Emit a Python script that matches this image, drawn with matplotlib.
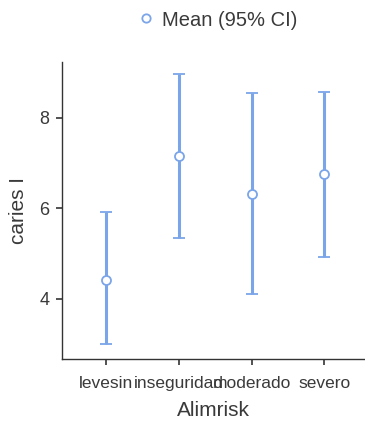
import numpy as np
import matplotlib.pyplot as plt
from matplotlib.lines import Line2D

plt.rcParams['font.family'] = ['Liberation Sans', 'DejaVu Sans']

categories = ["levesin", "inseguridad", "moderado", "severo"]
means = [4.42, 7.15, 6.31, 6.75]
ci_low = [2.99, 5.35, 4.11, 4.91]
ci_high = [5.91, 8.96, 8.55, 8.58]

BLUE = "#7ba5e9"
TEXT = "#3a3a3a"

fig = plt.figure(figsize=(3.65, 4.26), dpi=100)
ax = fig.add_axes([0.170, 0.157, 0.830, 0.697])

x = np.arange(len(categories))
m = np.array(means)
err = np.vstack([m - np.array(ci_low), np.array(ci_high) - m])
ax.errorbar(x, m, yerr=err, fmt="o", color=BLUE, ecolor=BLUE, elinewidth=2.2,
            capsize=4, capthick=2.2, markersize=6.5, markerfacecolor="white",
            markeredgecolor=BLUE, markeredgewidth=1.3, zorder=3)

ax.set_xlim(-0.605, 3.56)
ax.set_ylim(2.66, 9.23)
ax.set_yticks([4, 6, 8])
ax.set_xticks(x)
ax.set_xticklabels(categories)

for s in ["top", "right"]:
    ax.spines[s].set_visible(False)
for s in ["left", "bottom"]:
    ax.spines[s].set_color("#333333")
    ax.spines[s].set_linewidth(1.0)

ax.tick_params(axis="y", length=4, width=1.2, color="#333333", labelsize=13,
               labelcolor=TEXT, pad=5)
ax.tick_params(axis="x", length=4, width=1.2, color="#333333", labelsize=12.5,
               labelcolor=TEXT, pad=8)

ax.set_xlabel("Alimrisk", fontsize=15, color=TEXT, labelpad=7)
ax.set_ylabel("caries I", fontsize=15, color=TEXT, labelpad=8)

handle = Line2D([], [], linestyle="none", marker="o", markersize=6,
                markerfacecolor="white", markeredgecolor=BLUE, markeredgewidth=1.3)
fig.legend([handle], ["Mean (95% CI)"], loc="center", bbox_to_anchor=(0.60, 0.953),
           frameon=False, fontsize=14.5, handlelength=0.6, handletextpad=0.5,
           labelcolor=TEXT)

fig.savefig("out.png", dpi=100)
